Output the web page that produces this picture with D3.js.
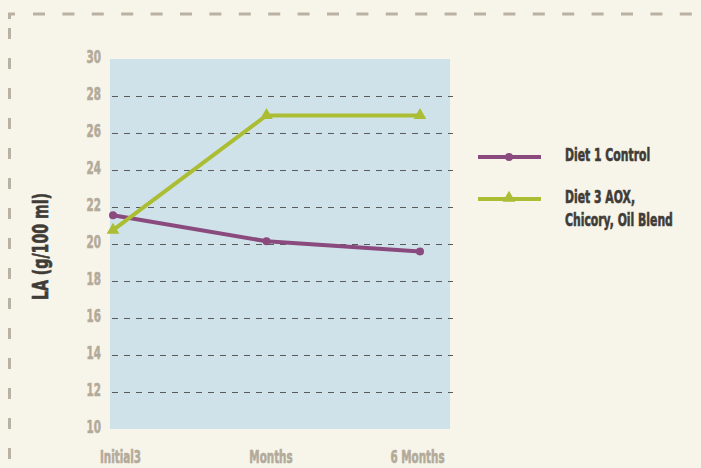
<!DOCTYPE html>
<html>
<head>
<meta charset="utf-8">
<script src="https://cdn.jsdelivr.net/npm/d3@7/dist/d3.min.js"></script>
<style>
body { margin: 0; background: #f7f4ea; }
svg { display: block; }
text { font-family: "DejaVu Sans Condensed", "DejaVu Sans", sans-serif; font-weight: bold; }
</style>
</head>
<body>
<svg width="701" height="468"></svg>
<script>
const categories = ["Initial3", "Months", "6 Months"];
const diet1 = [21.55, 20.15, 19.6];   // Diet 1 Control
const diet3 = [20.75, 26.95, 26.95];  // Diet 3 AOX, Chicory, Oil Blend
const yTicks = [10, 12, 14, 16, 18, 20, 22, 24, 26, 28, 30];
const seriesNames = ["Diet 1 Control", "Diet 3 AOX,|Chicory, Oil Blend"];

const svg = d3.select("svg"),
	width = +svg.attr("width"),
	height = +svg.attr("height");

const plot = {left: 110, right: 450, top: 59, bottom: 429};
const purple = "#8a4a7e", green = "#abbd33";
const tickColor = "#b3aa99", darkText = "#3f3c37";
const squeeze = 0.64;   // the original uses a very narrow display face

// outer dashed frame
const frame = svg.append("g")
	.attr("fill", "none")
	.attr("stroke", "#b9b1a2")
	.attr("stroke-width", 3);
frame.append("path").attr("d", "M9.5,19 V14 H15");
frame.append("path").attr("d", `M33,14 H${width}`).attr("stroke-dasharray", "12,17.4");
frame.append("path").attr("d", `M9.5,28 V${height}`).attr("stroke-dasharray", "11,19");

svg.append("rect")
	.attr("x", plot.left)
	.attr("y", plot.top)
	.attr("width", plot.right - plot.left)
	.attr("height", plot.bottom - plot.top)
	.attr("fill", "#cfe2ea");

const x = d3.scalePoint()
	.domain(d3.range(categories.length))
	.range([113, 420]);

const y = d3.scaleLinear()
	.domain([10, 30])
	.range([plot.bottom, plot.top]);

// gridlines
svg.append("g")
	.selectAll("line")
	.data(yTicks.filter(t => t > 10 && t < 30))
	.join("line")
	.attr("x1", plot.left + 2)
	.attr("x2", plot.right + 3)
	.attr("y1", d => y(d) + 0.5)
	.attr("y2", d => y(d) + 0.5)
	.attr("stroke", "#5a5a5a")
	.attr("stroke-width", 1)
	.attr("stroke-dasharray", "6,6");

// y axis
const yAxis = svg.append("g")
	.attr("transform", `translate(${plot.left - 9},0)`)
	.call(d3.axisLeft(y).tickValues(yTicks).tickSize(0).tickPadding(0));
yAxis.select(".domain").remove();
yAxis.selectAll("text")
	.attr("fill", tickColor)
	.attr("stroke", tickColor)
	.attr("stroke-width", 0.6)
	.attr("font-size", 18)
	.attr("dy", null)
	.attr("y", 3)
	.attr("transform", `scale(${squeeze},1)`);

// x axis
const xAxis = svg.append("g")
	.attr("transform", `translate(0,${plot.bottom + 34})`)
	.call(d3.axisBottom(x).tickFormat(i => categories[i]).tickSize(0).tickPadding(0));
xAxis.select(".domain").remove();
xAxis.selectAll("text")
	.attr("fill", tickColor)
	.attr("stroke", tickColor)
	.attr("stroke-width", 0.6)
	.attr("font-size", 18)
	.attr("dy", null)
	.attr("y", 0)
	.attr("x", (d, i) => [7, 4, -3][i] / squeeze)
	.attr("transform", `scale(${squeeze},1)`);

svg.append("text")
	.attr("transform", `translate(48,246.5) rotate(-90)`)
	.attr("text-anchor", "middle")
	.attr("font-size", 21)
	.attr("fill", darkText)
	.attr("stroke", darkText)
	.attr("stroke-width", 0.6)
	.attr("textLength", 107)
	.attr("lengthAdjust", "spacingAndGlyphs")
	.text("LA (g/100 ml)");

const line = d3.line().x((d, i) => x(i)).y(d => y(d));
const tri = d3.symbol().type(d3.symbolTriangle).size(70);

svg.append("path")
	.attr("d", line(diet1))
	.attr("fill", "none")
	.attr("stroke", purple)
	.attr("stroke-width", 4);
svg.append("g")
	.selectAll("circle")
	.data(diet1)
	.join("circle")
	.attr("cx", (d, i) => x(i))
	.attr("cy", d => y(d))
	.attr("r", 4)
	.attr("fill", purple);

svg.append("path")
	.attr("d", line(diet3))
	.attr("fill", "none")
	.attr("stroke", green)
	.attr("stroke-width", 4);
svg.append("g")
	.selectAll("path")
	.data(diet3)
	.join("path")
	.attr("d", tri)
	.attr("transform", (d, i) => `translate(${x(i)},${y(d)})`)
	.attr("fill", green);

// legend
const legend = svg.append("g");
const baselines = [[161], [203, 226]];
[purple, green].forEach((c, i) => {
	const ly = 157 + i * 42;
	legend.append("line")
		.attr("x1", 478).attr("x2", 541)
		.attr("y1", ly).attr("y2", ly)
		.attr("stroke", c).attr("stroke-width", 4);
	if (i === 0) {
		legend.append("circle").attr("cx", 509).attr("cy", ly).attr("r", 4).attr("fill", c);
	} else {
		legend.append("path").attr("d", tri).attr("transform", `translate(509,${ly - 1})`).attr("fill", c);
	}
	seriesNames[i].split("|").forEach((t, j) => {
		legend.append("text")
			.attr("transform", `translate(565,${baselines[i][j]}) scale(${squeeze + 0.03},1)`)
			.attr("font-size", 18)
			.attr("fill", darkText)
			.attr("stroke", darkText)
			.attr("stroke-width", 0.6)
			.text(t);
	});
});
</script>
</body>
</html>
